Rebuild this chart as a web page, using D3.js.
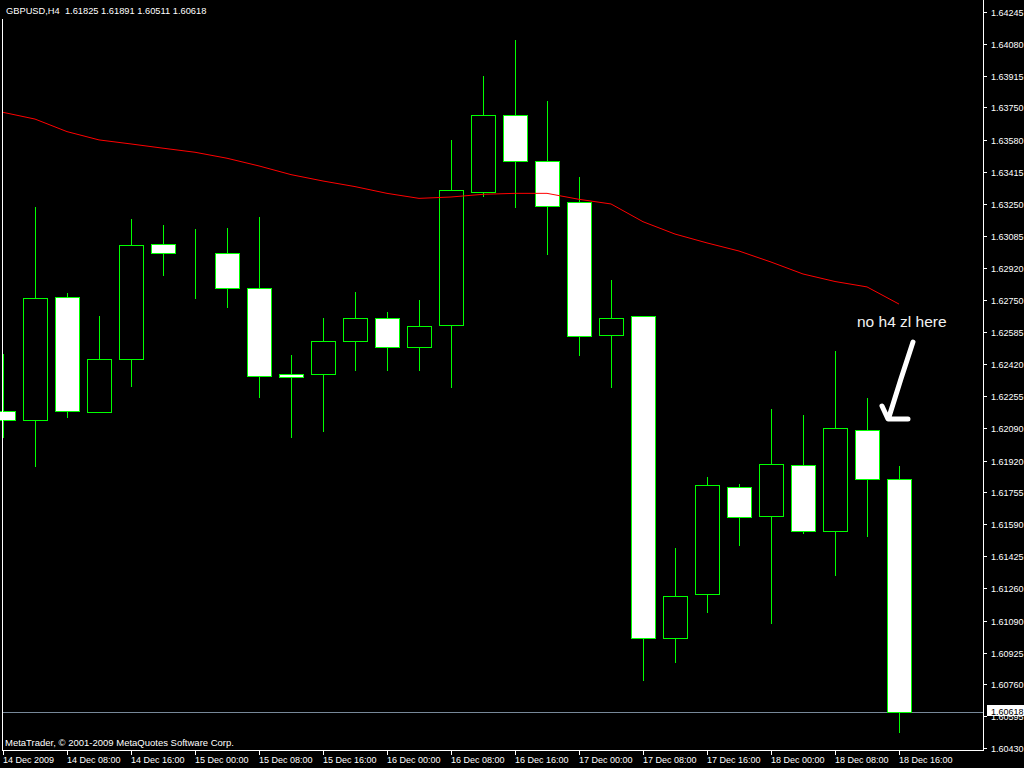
<!DOCTYPE html>
<html>
<head>
<meta charset="utf-8">
<script src="https://cdnjs.cloudflare.com/ajax/libs/d3/7.8.5/d3.min.js"></script>
<style>
  body { margin: 0; background: #000; overflow: hidden; }
  svg { display: block; }
  text { font-family: "Liberation Sans", Arial, sans-serif; font-size: 9px; fill: #fff; }
</style>
</head>
<body>
<svg id="chart" width="1024" height="768"></svg>
<script>
var title = "GBPUSD,H4  1.61825 1.61891 1.60511 1.60618"
var copyright = "MetaTrader, \u00a9 2001-2009 MetaQuotes Software Corp."
var note = "no h4 zl here"

var times = [
  "2009-12-14 00:00", "2009-12-14 04:00", "2009-12-14 08:00", "2009-12-14 12:00", "2009-12-14 16:00", "2009-12-14 20:00",
  "2009-12-15 00:00", "2009-12-15 04:00", "2009-12-15 08:00", "2009-12-15 12:00", "2009-12-15 16:00", "2009-12-15 20:00",
  "2009-12-16 00:00", "2009-12-16 04:00", "2009-12-16 08:00", "2009-12-16 12:00", "2009-12-16 16:00", "2009-12-16 20:00",
  "2009-12-17 00:00", "2009-12-17 04:00", "2009-12-17 08:00", "2009-12-17 12:00", "2009-12-17 16:00", "2009-12-17 20:00",
  "2009-12-18 00:00", "2009-12-18 04:00", "2009-12-18 08:00", "2009-12-18 12:00", "2009-12-18 16:00"
]
var open = [1.62177, 1.62130, 1.62768, 1.62172, 1.62446, 1.63043, 1.62996, 1.62995, 1.62814, 1.62369,
  1.62369, 1.62540, 1.62659, 1.62509, 1.62623, 1.63312, 1.63711, 1.63473, 1.63260, 1.62571,
  1.62669, 1.61000, 1.61228, 1.61783, 1.61633, 1.61897, 1.61555, 1.62078, 1.61825]
var high = [1.62472, 1.63234, 1.62789, 1.62669, 1.63172, 1.63141, 1.63120, 1.63125, 1.63182, 1.62467,
  1.62659, 1.62794, 1.62690, 1.62752, 1.63582, 1.63913, 1.64100, 1.63784, 1.63390, 1.62856,
  1.62669, 1.61467, 1.61835, 1.61798, 1.62187, 1.62156, 1.62488, 1.62244, 1.61891]
var low = [1.62042, 1.61892, 1.62146, 1.62172, 1.62306, 1.62882, 1.62763, 1.62716, 1.62249, 1.62042,
  1.62073, 1.62389, 1.62389, 1.62389, 1.62301, 1.63291, 1.63234, 1.62991, 1.62467, 1.62301,
  1.60782, 1.60876, 1.61135, 1.61482, 1.61078, 1.61544, 1.61327, 1.61529, 1.60511]
var close = [1.62130, 1.62763, 1.62177, 1.62446, 1.63037, 1.62996, 1.62996, 1.62814, 1.62358, 1.62353,
  1.62540, 1.62659, 1.62509, 1.62617, 1.63322, 1.63711, 1.63473, 1.63239, 1.62566, 1.62659,
  1.61000, 1.61218, 1.61793, 1.61627, 1.61902, 1.61555, 1.62089, 1.61826, 1.60618]
// red moving average
var ma = [1.63725, 1.63690, 1.63625, 1.63582, 1.63561, 1.63539, 1.63518, 1.63487, 1.63447, 1.63402,
  1.63369, 1.63340, 1.63305, 1.63279, 1.63286, 1.63300, 1.63305, 1.63305, 1.63274, 1.63250,
  1.63158, 1.63094, 1.63048, 1.63006, 1.62949, 1.62887, 1.62848, 1.62820, 1.62731]
var lastPrice = 1.60618

var xTickTimes = ["2009-12-14 00:00", "2009-12-14 08:00", "2009-12-14 16:00", "2009-12-15 00:00", "2009-12-15 08:00",
  "2009-12-15 16:00", "2009-12-16 00:00", "2009-12-16 08:00", "2009-12-16 16:00", "2009-12-17 00:00",
  "2009-12-17 08:00", "2009-12-17 16:00", "2009-12-18 00:00", "2009-12-18 08:00", "2009-12-18 16:00"]
var xTickLabels = ["14 Dec 2009", "14 Dec 08:00", "14 Dec 16:00", "15 Dec 00:00", "15 Dec 08:00",
  "15 Dec 16:00", "16 Dec 00:00", "16 Dec 08:00", "16 Dec 16:00", "17 Dec 00:00",
  "17 Dec 08:00", "17 Dec 16:00", "18 Dec 00:00", "18 Dec 08:00", "18 Dec 16:00"]
var yTickLabels = ["1.64245", "1.64080", "1.63915", "1.63750", "1.63580", "1.63415", "1.63250", "1.63085",
  "1.62920", "1.62750", "1.62585", "1.62420", "1.62255", "1.62090", "1.61920", "1.61755",
  "1.61590", "1.61425", "1.61260", "1.61090", "1.60925", "1.60760", "1.60595", "1.60430"]

var parseTime = d3.timeParse("%Y-%m-%d %H:%M")
var bars = times.map((t, i) => ({ t: parseTime(t), o: open[i], h: high[i], l: low[i], c: close[i], ma: ma[i] }))

var frame = { left: 2, right: 983, bottom: 750 }
var bodyW = 24
var green = "#00ff00"

var x = d3.scaleTime()
  .domain([bars[0].t, bars[bars.length - 1].t])
  .range([3, 899])
var y = d3.scaleLinear()
  .domain([1.60430, 1.64245])
  .range([748, 12])

var px = (v) => Math.round(v) + 0.5

var svg = d3.select("#chart")

svg.append("rect")
  .attr("width", 1024)
  .attr("height", 768)
  .attr("fill", "#000")

// last price line
svg.append("line")
  .attr("x1", frame.left)
  .attr("x2", frame.right)
  .attr("y1", px(y(lastPrice)))
  .attr("y2", px(y(lastPrice)))
  .attr("stroke", "#778899")
  .attr("stroke-width", 1)

var candles = svg.append("g")
  .attr("shape-rendering", "crispEdges")
  .selectAll("g")
  .data(bars)
  .enter()
  .append("g")

candles.append("line")
  .attr("x1", (d) => px(x(d.t)))
  .attr("x2", (d) => px(x(d.t)))
  .attr("y1", (d) => Math.round(y(d.h)))
  .attr("y2", (d) => Math.round(y(d.l)) + 1)
  .attr("stroke", green)

candles.append("rect")
  .attr("x", (d) => Math.round(x(d.t)) - bodyW / 2 + 0.5)
  .attr("y", (d) => px(y(Math.max(d.o, d.c))))
  .attr("width", bodyW)
  .attr("height", (d) => Math.round(y(Math.min(d.o, d.c))) - Math.round(y(Math.max(d.o, d.c))))
  .attr("fill", (d) => d.c > d.o ? "#000" : "#fff")
  .attr("stroke", green)
  .attr("stroke-width", 1)

// moving average
svg.append("path")
  .datum(bars)
  .attr("fill", "none")
  .attr("stroke", "#ff0000")
  .attr("stroke-width", 1)
  .attr("d", d3.line().x((d) => x(d.t)).y((d) => y(d.ma)))

// frame
svg.append("path")
  .attr("fill", "none")
  .attr("stroke", "#fff")
  .attr("shape-rendering", "crispEdges")
  .attr("d", "M" + (frame.left + 0.5) + ",19V" + (frame.bottom + 0.5) +
    "H" + (frame.right + 0.5) + "V0")

// x axis
var xTicks = svg.append("g")
  .selectAll("g")
  .data(xTickTimes)
  .enter()
  .append("g")
  .attr("transform", (d) => "translate(" + px(x(parseTime(d))) + ",0)")
xTicks.append("line")
  .attr("y1", frame.bottom + 1)
  .attr("y2", frame.bottom + 5)
  .attr("stroke", "#fff")
  .attr("shape-rendering", "crispEdges")
xTicks.append("text")
  .attr("x", -0.5)
  .attr("y", 763)
  .text((d, i) => xTickLabels[i])

// y axis
var yTicks = svg.append("g")
  .selectAll("g")
  .data(yTickLabels)
  .enter()
  .append("g")
  .attr("transform", (d) => "translate(0," + px(y(+d)) + ")")
yTicks.append("line")
  .attr("x1", frame.right + 1)
  .attr("x2", frame.right + 4)
  .attr("stroke", "#fff")
  .attr("shape-rendering", "crispEdges")
yTicks.append("text")
  .attr("x", 991)
  .attr("y", 3.5)
  .text((d) => d)

// last price label (covers the tick label under it, as in the terminal)
var yLast = Math.round(y(lastPrice))
svg.append("rect")
  .attr("x", 987)
  .attr("y", yLast - 7)
  .attr("width", 37)
  .attr("height", 11)
  .attr("fill", "#fff")
svg.append("text")
  .attr("x", 991)
  .attr("y", yLast + 2.5)
  .style("fill", "#000")
  .text(lastPrice.toFixed(5))

// titles
svg.append("text")
  .attr("x", 6)
  .attr("y", 14)
  .attr("xml:space", "preserve")
  .style("white-space", "pre")
  .style("font-size", "9.3px")
  .text(title)
svg.append("text")
  .attr("x", 5)
  .attr("y", 746)
  .style("font-size", "9.5px")
  .text(copyright)

// hand drawn note
var ax = x(bars[27].t), ay = y(bars[27].h)
svg.append("text")
  .attr("x", ax - 10)
  .attr("y", ay - 71)
  .style("font-size", "15.5px")
  .style("fill", "#f2f2f2")
  .text(note)
svg.append("path")
  .attr("fill", "none")
  .attr("stroke", "#fff")
  .attr("stroke-width", 5)
  .attr("stroke-linecap", "round")
  .attr("stroke-linejoin", "round")
  .attr("d", "M" + (ax + 46) + "," + (ay - 56) +
    "Q" + (ax + 34) + "," + (ay - 20) + " " + (ax + 22) + "," + (ay + 19) +
    "M" + (ax + 15) + "," + (ay + 8) +
    "L" + (ax + 21) + "," + (ay + 21) +
    "L" + (ax + 41) + "," + (ay + 21))
</script>
</body>
</html>
